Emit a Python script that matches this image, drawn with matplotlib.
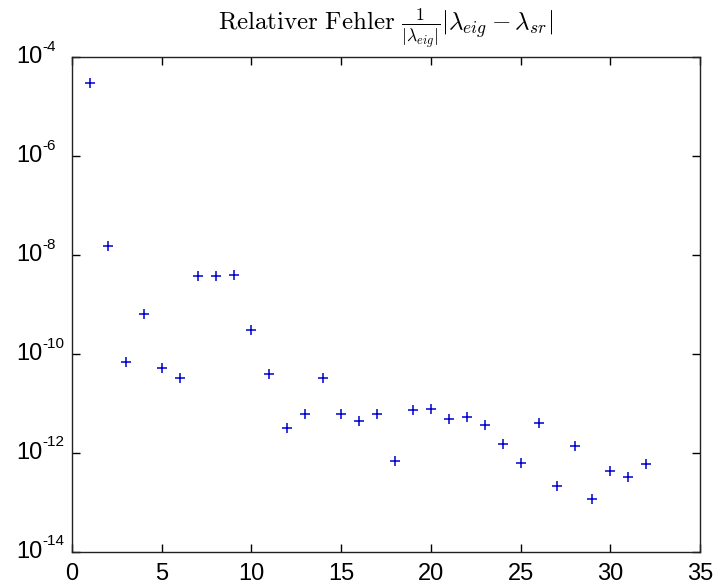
import matplotlib
matplotlib.use("Agg")
import matplotlib.pyplot as plt
import numpy as np
from matplotlib.ticker import FixedLocator

plt.rcParams["font.family"] = ["Liberation Sans", "DejaVu Sans"]

# index of eigenvalue
index = np.arange(1, 33)
# relative error per eigenvalue
rel_error = [3.0e-5, 1.5e-8, 6.8e-11, 6.3e-10, 5.3e-11, 3.2e-11, 3.7e-9, 3.7e-9,
             4.0e-9, 3.0e-10, 4.0e-11, 3.2e-12, 6.0e-12, 3.2e-11, 6.0e-12, 4.3e-12,
             6.0e-12, 6.8e-13, 7.3e-12, 7.8e-12, 4.8e-12, 5.2e-12, 3.7e-12, 1.5e-12,
             6.3e-13, 4.0e-12, 2.1e-13, 1.4e-12, 1.15e-13, 4.2e-13, 3.2e-13, 5.9e-13]

x_ticks = [0, 5, 10, 15, 20, 25, 30, 35]
y_exponents = [-14, -12, -10, -8, -6, -4]

fig = plt.figure(figsize=(7.13, 5.85), dpi=100)
ax = fig.add_axes([0.101, 0.057, 0.881, 0.845])

ax.semilogy(index, rel_error, "+", color="#0000cc", markersize=7.5, markeredgewidth=1.1)

ax.set_xlim(0, 35)
ax.set_ylim(10.0 ** y_exponents[0], 10.0 ** y_exponents[-1])
ax.xaxis.set_major_locator(FixedLocator(x_ticks))
ax.yaxis.set_major_locator(FixedLocator([10.0 ** e for e in y_exponents]))
ax.yaxis.set_minor_locator(FixedLocator([]))

ax.tick_params(which="both", direction="in", top=True, right=True,
               length=5.5, width=1.0, labelsize=17, labelleft=False)
ax.tick_params(axis="x", pad=8)
for s in ax.spines.values():
    s.set_linewidth(1.0)
    s.set_color("#222222")

# MATLAB style y labels: "10" with small raised exponent, left aligned
ytrans = ax.get_yaxis_transform()
for e in y_exponents:
    ax.text(-0.0892, 10.0 ** e, "10", transform=ytrans, ha="left", va="center",
            fontsize=17)
    ax.annotate("-%d" % abs(e), xy=(-0.047, 10.0 ** e), xycoords=ytrans,
                xytext=(0, 7.5), textcoords="offset points",
                ha="left", va="center", fontsize=11)

ax.set_title(r"$\mathrm{Relativer\ Fehler}\ \frac{1}{|\lambda_{eig}|}|\lambda_{eig}-\lambda_{sr}|$",
             fontsize=18, math_fontfamily="cm", pad=20)

fig.savefig("out.png", dpi=100)
